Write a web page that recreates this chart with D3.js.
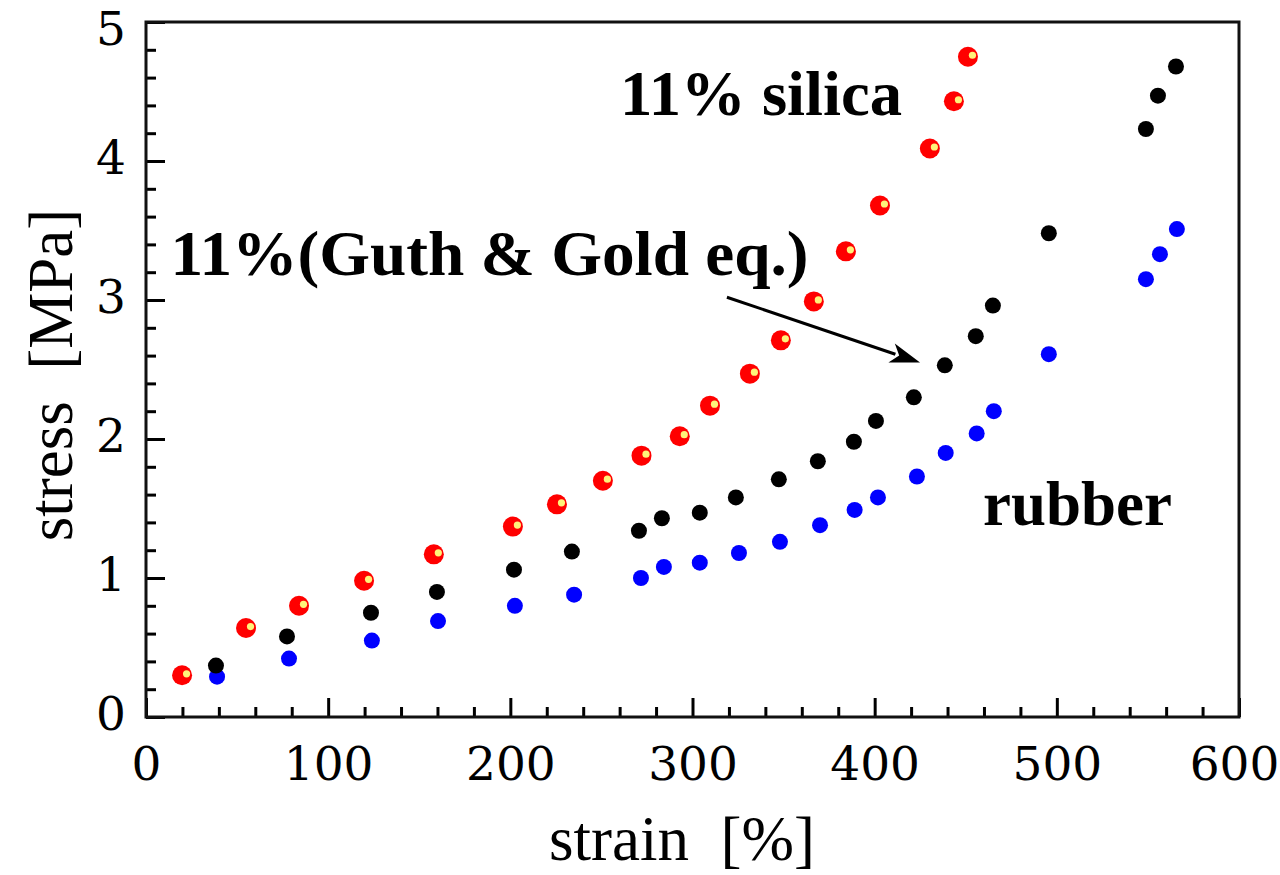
<!DOCTYPE html>
<html>
<head>
<meta charset="utf-8">
<script src="https://cdn.jsdelivr.net/npm/d3@7"></script>
<style>
  html, body { margin: 0; padding: 0; background: #fff; }
  svg { display: block; }
</style>
</head>
<body>
<svg id="chart" width="1280" height="875"></svg>
<script>
// ---- data (strain [%], stress [MPa]) ----
const silicaStrain = [19.8, 54.9, 84, 119.7, 158, 201.4, 225.6, 250.8, 272, 293, 309.6, 331.5, 348.5, 366.6, 384.2, 402.9, 430.3, 443.5, 451.2];
const silicaStress = [0.30, 0.64, 0.80, 0.98, 1.17, 1.37, 1.53, 1.70, 1.88, 2.02, 2.24, 2.47, 2.71, 2.99, 3.35, 3.68, 4.09, 4.43, 4.75];

const guthStrain = [38.4, 77.4, 123.5, 159.7, 202, 233.8, 270.6, 283.2, 304, 323.8, 347.4, 368.8, 388.6, 400.7, 421.5, 438.5, 455.5, 464.9, 495.6, 548.9, 555.5, 565.4];
const guthStress = [0.37, 0.58, 0.75, 0.90, 1.06, 1.19, 1.34, 1.43, 1.47, 1.58, 1.71, 1.84, 1.98, 2.13, 2.30, 2.53, 2.74, 2.96, 3.48, 4.23, 4.47, 4.68];

const rubberStrain = [39, 78.5, 124, 160.3, 202.5, 235, 271.7, 284.3, 304, 325.5, 348, 370, 389, 401.8, 423.2, 439, 456, 465.4, 495.6, 548.9, 556.6, 565.9];
const rubberStress = [0.29, 0.42, 0.55, 0.69, 0.80, 0.88, 1.00, 1.08, 1.11, 1.18, 1.26, 1.38, 1.49, 1.58, 1.73, 1.90, 2.04, 2.20, 2.61, 3.15, 3.33, 3.51];

const xMajorTicks = [0, 100, 200, 300, 400, 500, 600];
const yMajorTicks = [0, 1, 2, 3, 4, 5];

const xTitle = "strain\u00a0\u00a0[%]";
const yTitle = "stress\u00a0\u00a0[MPa]";

// annotations: [label, x(strain), y(stress), width px]
const annSilica = ["11% silica", 260.2, 4.33, 282];
const annGuth = ["11%(Guth & Gold eq.)", 13.5, 3.18, 638];
const annRubber = ["rubber", 459.5, 1.38, 189];
const arrowFrom = [318.9, 3.02];
const arrowTo = [424.9, 2.55];

// ---- layout ----
const mLeft = 146, mRight = 1239, mTop = 22, mBottom = 717;
const svg = d3.select("#chart");

const x = d3.scaleLinear().domain([0, 600]).range([mLeft, mRight]);
const y = d3.scaleLinear().domain([0, 5]).range([mBottom, mTop]);

const xMinor = d3.range(0, 601, 20).filter(v => v % 100 !== 0);
const yMinor = d3.range(0, 5.001, 0.2).map(v => +v.toFixed(1)).filter(v => Math.abs(v - Math.round(v)) > 1e-6);

const tickFont = "'DejaVu Serif', serif";
const titleFont = "'Liberation Serif', 'Times New Roman', serif";

// minor ticks
svg.append("g").attr("transform", `translate(0,${mBottom})`)
  .call(d3.axisBottom(x).tickValues(xMinor).tickSize(-10).tickFormat(""))
  .call(g => g.select(".domain").remove());
svg.append("g").attr("transform", `translate(${mLeft},0)`)
  .call(d3.axisLeft(y).tickValues(yMinor).tickSize(-10).tickFormat(""))
  .call(g => g.select(".domain").remove());

// major ticks
svg.append("g").attr("transform", `translate(0,${mBottom})`)
  .call(d3.axisBottom(x).tickValues(xMajorTicks).tickSize(-19).tickFormat(d3.format("d")))
  .call(g => g.select(".domain").remove())
  .call(g => g.selectAll("text").attr("y", 63).attr("dy", null)
      .attr("x", d => d === 600 ? -5 : 0)
      .attr("font-family", tickFont).attr("font-size", 47).attr("fill", "#000"));
svg.append("g").attr("transform", `translate(${mLeft},0)`)
  .call(d3.axisLeft(y).tickValues(yMajorTicks).tickSize(-19).tickFormat(d3.format("d")))
  .call(g => g.select(".domain").remove())
  .call(g => g.selectAll("text").attr("x", -20)
      .attr("dy", d => d === 5 ? "0.47em" : "0.27em")
      .attr("font-family", tickFont).attr("font-size", 47).attr("fill", "#000"));

svg.selectAll(".tick line").attr("stroke", "#000").attr("stroke-width", 3);

// frame
svg.append("rect")
  .attr("x", mLeft).attr("y", mTop)
  .attr("width", mRight - mLeft).attr("height", mBottom - mTop)
  .attr("fill", "none").attr("stroke", "#111").attr("stroke-width", 3);

// axis titles
svg.append("text")
  .attr("x", 682).attr("y", 860)
  .attr("text-anchor", "middle")
  .attr("font-family", titleFont).attr("font-size", 63)
  .text(xTitle);
svg.append("text")
  .attr("transform", `translate(72,${375}) rotate(-90)`)
  .attr("text-anchor", "middle")
  .attr("font-family", titleFont).attr("font-size", 63)
  .text(yTitle);

// series
const zip = (a, b) => a.map((v, i) => [v, b[i]]);

svg.append("g").selectAll("circle")
  .data(zip(rubberStrain, rubberStress)).join("circle")
  .attr("cx", d => x(d[0])).attr("cy", d => y(d[1])).attr("r", 8)
  .attr("fill", "#0000ff");

svg.append("g").selectAll("circle")
  .data(zip(guthStrain, guthStress)).join("circle")
  .attr("cx", d => x(d[0])).attr("cy", d => y(d[1])).attr("r", 8)
  .attr("fill", "#000");

const sil = svg.append("g").selectAll("g")
  .data(zip(silicaStrain, silicaStress)).join("g")
  .attr("transform", d => `translate(${x(d[0])},${y(d[1])})`);
sil.append("circle").attr("r", 10).attr("fill", "#ff0000");
sil.append("circle").attr("cx", 4.5).attr("cy", -1.5).attr("r", 3.6).attr("fill", "#fff37a");

// annotations
const annFont = "'Liberation Serif', 'Times New Roman', serif";
[[annSilica, 63], [annGuth, 64], [annRubber, 63]].forEach(([a, fs]) => {
  svg.append("text")
    .attr("x", x(a[1])).attr("y", y(a[2]))
    .attr("font-family", annFont).attr("font-weight", "bold").attr("font-size", fs)
    .attr("textLength", a[3]).attr("lengthAdjust", "spacingAndGlyphs")
    .attr("fill", "#000")
    .text(a[0]);
});

// arrow
const x1 = x(arrowFrom[0]), y1 = y(arrowFrom[1]);
const x2 = x(arrowTo[0]), y2 = y(arrowTo[1]);
const ang = Math.atan2(y2 - y1, x2 - x1);
const headLen = 30, headW = 10;
const bx = x2 - headLen * Math.cos(ang), by = y2 - headLen * Math.sin(ang);
svg.append("line")
  .attr("x1", x1).attr("y1", y1).attr("x2", bx + 4 * Math.cos(ang)).attr("y2", by + 4 * Math.sin(ang))
  .attr("stroke", "#000").attr("stroke-width", 3);
svg.append("path")
  .attr("d", d3.line()([
    [x2, y2],
    [bx + headW * Math.sin(ang), by - headW * Math.cos(ang)],
    [bx + 8 * Math.cos(ang), by + 8 * Math.sin(ang)],
    [bx - headW * Math.sin(ang), by + headW * Math.cos(ang)]
  ]) + "Z")
  .attr("fill", "#000");
</script>
</body>
</html>
